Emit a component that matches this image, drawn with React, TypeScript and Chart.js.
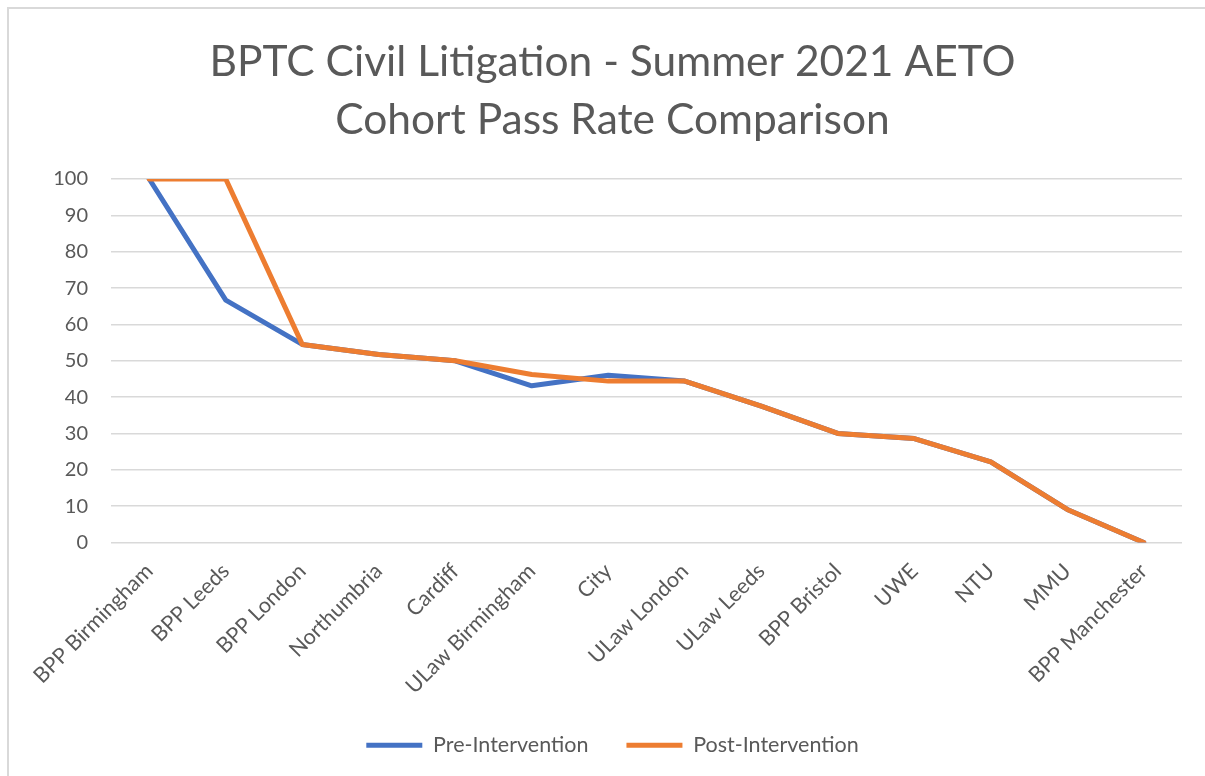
import React, { useEffect, useRef } from "react";
import { Chart, registerables } from "chart.js";

Chart.register(...registerables);

const categories = [
  "BPP Birmingham", "BPP Leeds", "BPP London", "Northumbria", "Cardiff",
  "ULaw Birmingham", "City", "ULaw London", "ULaw Leeds", "BPP Bristol",
  "UWE", "NTU", "MMU", "BPP Manchester",
];
const preIntervention = [100, 66.7, 54.5, 51.7, 50, 43.1, 46, 44.4, 37.5, 30, 28.6, 22.2, 9.1, 0];
const postIntervention = [100, 100, 54.5, 51.7, 50, 46.2, 44.4, 44.4, 37.5, 30, 28.6, 22.2, 9.1, 0];
const titleLines = ["BPTC Civil Litigation - Summer 2021 AETO", "Cohort Pass Rate Comparison"];

const FONT = "Lato";
const TEXT = "#595959";

export default function App() {
  const ref = useRef<HTMLCanvasElement | null>(null);

  useEffect(() => {
    document.documentElement.style.overflow = "hidden";
    document.body.style.overflow = "hidden";
    const chart = new Chart(ref.current!, {
      type: "line",
      data: {
        labels: categories,
        datasets: [
          {
            label: "Pre-Intervention",
            data: preIntervention,
            borderColor: "#4472C4",
            backgroundColor: "#4472C4",
            borderWidth: 5,
            borderCapStyle: "round",
            borderJoinStyle: "round",
            pointRadius: 0,
            pointStyle: "line",
            tension: 0,
            order: 1,
          },
          {
            label: "Post-Intervention",
            data: postIntervention,
            borderColor: "#ED7D31",
            backgroundColor: "#ED7D31",
            borderWidth: 5,
            borderCapStyle: "round",
            borderJoinStyle: "round",
            pointRadius: 0,
            pointStyle: "line",
            tension: 0,
            order: 0,
          },
        ],
      },
      options: {
        responsive: false,
        animation: false,
        layout: { padding: { left: 33, right: 24, top: 0, bottom: 0 } },
        plugins: {
          title: {
            display: true,
            text: titleLines,
            color: TEXT,
            font: { family: FONT, size: 42.5, weight: "normal", lineHeight: 1.365 },
            padding: { top: 23, bottom: 30 },
          },
          legend: {
            position: "bottom",
            labels: {
              usePointStyle: true,
              pointStyleWidth: 56,
              color: TEXT,
              font: { family: FONT, size: 21.5 },
              padding: 38,
              sort: (a: any, b: any) => a.datasetIndex - b.datasetIndex,
            },
          },
          tooltip: { enabled: false },
        },
        scales: {
          x: {
            offset: true,
            grid: { display: false, drawTicks: false },
            border: { display: false },
            ticks: {
              color: TEXT,
              font: { family: FONT, size: 21.5 },
              maxRotation: 45,
              minRotation: 45,
              autoSkip: false,
              padding: 16,
            },
            afterFit: (s: any) => {
              s.height = 154;
            },
          },
          y: {
            min: 0,
            max: 100,
            grid: { color: "#d9d9d9", lineWidth: 1.5, drawTicks: false },
            border: { display: false },
            ticks: {
              stepSize: 10,
              color: TEXT,
              font: { family: FONT, size: 20 },
              padding: 23,
            },
            afterFit: (s: any) => {
              s.width = 68;
            },
          },
        },
      },
    });
    return () => chart.destroy();
  }, []);

  return (
    <div
      style={{
        position: "absolute",
        left: 7,
        top: 7,
        width: 1205,
        height: 800,
        overflow: "hidden",
        borderLeft: "2px solid #d9d9d9",
        borderTop: "2px solid #d9d9d9",
        background: "#fff",
      }}
    >
      <canvas
        ref={ref}
        width={1196}
        height={756}
        style={{ position: "absolute", left: 1, top: 1, width: 1196, height: 756 }}
      />
    </div>
  );
}
